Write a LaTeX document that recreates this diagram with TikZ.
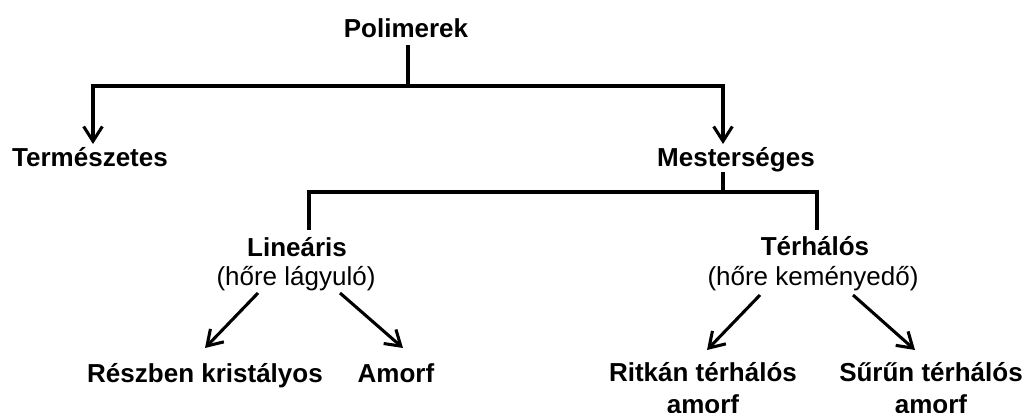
\documentclass[tikz,border=0pt]{standalone}
\usepackage{fontspec}
\setmainfont{Liberation Sans}
\usetikzlibrary{arrows.meta,calc}
\newcommand\myfs{\fontsize{19.5}{23.4}\selectfont}
\tikzset{
  lbl/.style={font=\myfs\bfseries, anchor=base, inner sep=0pt, align=center},
  sublbl/.style={font=\myfs, anchor=base, inner sep=0pt},
  conn/.style={line width=2.3pt},
  arr/.style={conn, -{Straight Barb[length=11pt,width=14pt]}}
}
\begin{document}
\begin{tikzpicture}[x=0.75pt,y=-0.75pt]
\useasboundingbox (0,0) rectangle (1029,412);
\node[lbl] (pol) at (406,37) {Polimerek};
\node[lbl] (term) at (90,166) {Természetes};
\node[lbl] (mest) at (736,166) {Mesterséges};
\node[lbl] (lin) at (297,256) {Lineáris};
\node[sublbl] (linsub) at (296,285) {(hőre lágyuló)};
\node[lbl] (ter) at (815,255) {Térhálós};
\node[sublbl] (tersub) at (813,285) {(hőre keményedő)};
\node[lbl] (resz) at (205,382) {Részben kristályos};
\node[lbl] (amorf) at (396,382) {Amorf};
\node[lbl] (ritk) at (703,413) {Ritkán térhálós\\amorf};
\node[lbl] (suru) at (931,413) {Sűrűn térhálós\\amorf};
\coordinate (j1) at (408,86);
\coordinate (j2) at (723,192);
\draw[conn] ($(pol.base)+(2,8)$) -- (j1);
\draw[arr] (j1) -| ($(term.base)+(3,-22)$);
\draw[arr] (j1) -| ($(mest.base)+(-13,-22)$);
\draw[conn] ($(mest.base)+(-13,6)$) -- (j2);
\draw[conn] (j2) -| ($(lin.base)+(12,-26)$);
\draw[conn] (j2) -| ($(ter.base)+(2,-25)$);
\draw[arr] ($(linsub.base)+(-38,8)$) -- ($(resz.base)+(0,-34)$);
\draw[arr] ($(linsub.base)+(44,8)$) -- ($(amorf.base)+(7,-34)$);
\draw[arr] ($(tersub.base)+(-53,10)$) -- ($(ritk.base)+(4,-63)$);
\draw[arr] ($(tersub.base)+(40,10)$) -- ($(suru.base)+(-16,-63)$);
\end{tikzpicture}
\end{document}
